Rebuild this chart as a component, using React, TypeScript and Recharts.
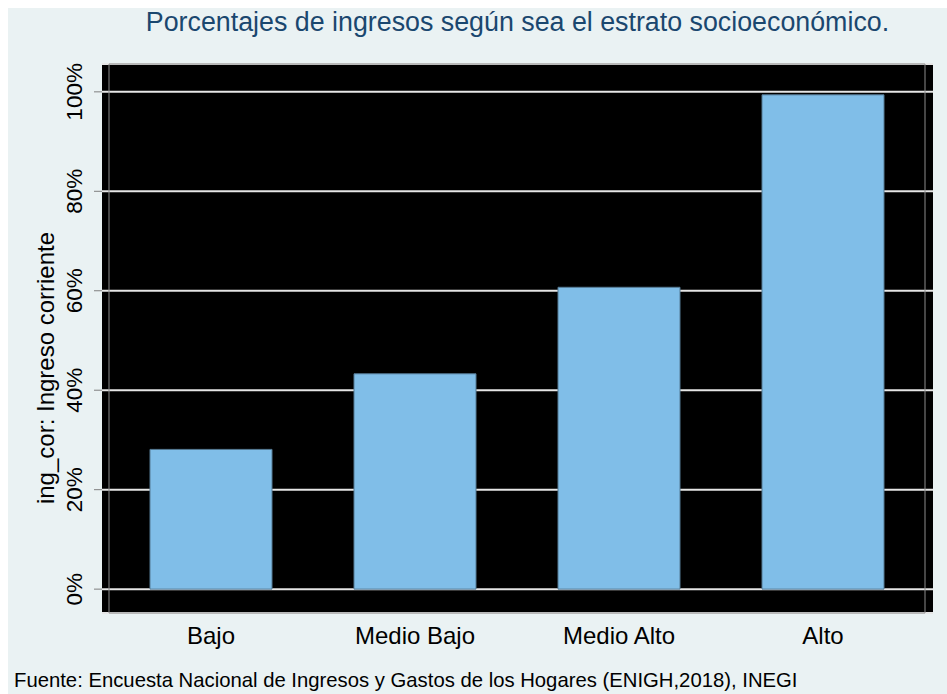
import React from 'react';
import { BarChart, Bar, XAxis, YAxis, CartesianGrid, ReferenceArea } from 'recharts';

// ingreso corriente por estrato socioeconómico (% del máximo)
const categories = ['Bajo', 'Medio Bajo', 'Medio Alto', 'Alto'];
const ingresoPct = [28.1, 43.3, 60.7, 99.4];
const yTicks = [0, 20, 40, 60, 80, 100];

const data = categories.map((estrato, i) => ({ estrato, pct: ingresoPct[i] }));

const FONT = '"Liberation Sans", Arial, Helvetica, sans-serif';
const Y_MIN = -4.8;
const Y_MAX = 105.6;

const YTick = (props: any) => {
  const { x, y, payload } = props;
  const bx = x - 10;
  return (
    <text
      x={bx}
      y={y}
      transform={`rotate(-90, ${bx}, ${y})`}
      textAnchor="middle"
      fontSize={22.5}
      fontFamily={FONT}
      fill="#000"
    >
      {payload.value}%
    </text>
  );
};

const XTick = (props: any) => {
  const { x, y, payload } = props;
  return (
    <text x={x} y={y} dy={23} textAnchor="middle" fontSize={24} fontFamily={FONT} fill="#000">
      {payload.value}
    </text>
  );
};

const YLabel = () => (
  <text
    x={46}
    y={360}
    transform="rotate(-90, 46, 360)"
    textAnchor="middle"
    fontSize={24}
    fontFamily={FONT}
    fill="#000"
  >
    ing_cor: Ingreso corriente
  </text>
);

export default function App() {
  return (
    <div
      style={{
        position: 'absolute',
        left: 8,
        top: 8,
        width: 939,
        height: 686,
        background: '#EAF2F3',
        overflow: 'hidden',
        fontFamily: FONT,
      }}
    >
      <div
        style={{
          position: 'absolute',
          left: 0,
          width: 1019,
          top: -1,
          textAlign: 'center',
          fontSize: 26.8,
          color: '#1A476F',
          whiteSpace: 'nowrap',
        }}
      >
        Porcentajes de ingresos según sea el estrato socioeconómico.
      </div>
      <BarChart
        width={939}
        height={686}
        data={data}
        margin={{ top: 56, right: 14, bottom: 0, left: 0 }}
        barSize={122}
      >
        <CartesianGrid
          vertical={false}
          fill="#000"
          fillOpacity={1}
          stroke="#E6E6E6"
          strokeWidth={2}
        />
        <XAxis
          dataKey="estrato"
          axisLine={false}
          tickLine={false}
          height={81}
          padding={{ left: 7, right: 8 }}
          tick={<XTick />}
          interval={0}
        />
        <YAxis
          width={94}
          domain={[Y_MIN, Y_MAX]}
          ticks={yTicks}
          allowDataOverflow
          axisLine={false}
          tickLine={{ stroke: '#7F7F7F' }}
          tickSize={8}
          tick={<YTick />}
          label={<YLabel />}
        />
        <Bar
          dataKey="pct"
          fill="#80BEE8"
          stroke="#557A94"
          strokeWidth={1}
          isAnimationActive={false}
        />
        <ReferenceArea
          y1={Y_MIN}
          y2={Y_MAX}
          fill="none"
          stroke="#8C8C8C"
          strokeWidth={1}
          ifOverflow="visible"
        />
      </BarChart>
      <div
        style={{
          position: 'absolute',
          left: 6,
          top: 661,
          fontSize: 20.3,
          color: '#000',
          whiteSpace: 'nowrap',
        }}
      >
        Fuente: Encuesta Nacional de Ingresos y Gastos de los Hogares (ENIGH,2018), INEGI
      </div>
    </div>
  );
}
